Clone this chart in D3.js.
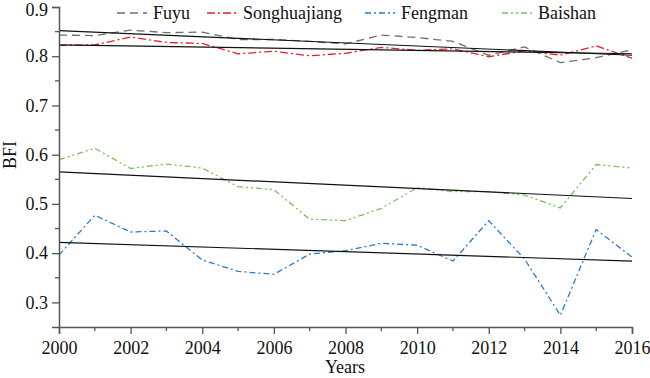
<!DOCTYPE html>
<html><head><meta charset="utf-8">
<script src="https://cdn.jsdelivr.net/npm/d3@7"></script>
<style>body{margin:0;background:#fff}svg{display:block}svg text{font-family:"Liberation Serif","DejaVu Serif",serif !important;fill:#111}</style>
</head><body><svg id="c" width="650" height="378"></svg>
<script>
const years = [2000,2001,2002,2003,2004,2005,2006,2007,2008,2009,2010,2011,2012,2013,2014,2015,2016];
const fuyu = [0.843,0.842,0.853,0.848,0.849,0.834,0.834,0.830,0.825,0.843,0.838,0.830,0.802,0.819,0.787,0.797,0.813];
const songhuajiang = [0.822,0.823,0.839,0.828,0.826,0.805,0.810,0.801,0.806,0.818,0.812,0.815,0.799,0.811,0.802,0.821,0.796];
const fengman = [0.396,0.477,0.443,0.445,0.386,0.363,0.357,0.398,0.405,0.420,0.416,0.384,0.466,0.388,0.274,0.448,0.392];
const baishan = [0.590,0.613,0.572,0.581,0.573,0.535,0.529,0.469,0.466,0.491,0.533,0.525,0.525,0.518,0.492,0.580,0.573];
// trend line start/end values (2000, 2016)
const trendFuyu = [0.852,0.802];
const trendSonghuajiang = [0.823,0.805];
const trendFengman = [0.422,0.384];
const trendBaishan = [0.565,0.511];
const seriesNames = ["Fuyu","Songhuajiang","Fengman","Baishan"];
const xTicks = [2000,2002,2004,2006,2008,2010,2012,2014,2016];
const yTicks = [0.3,0.4,0.5,0.6,0.7,0.8,0.9];

const FONT = '"Liberation Serif","DejaVu Serif",serif';
const svg = d3.select("#c");
const x = d3.scaleLinear().domain([2000,2016]).range([59,632]);
const y = d3.scaleLinear().domain([0.25,0.9]).range([327,7]);

const series = [
  {name:"Fuyu", vals:fuyu, trend:trendFuyu, color:"#6e6e6e", dash:"8,5", w:1.3},
  {name:"Songhuajiang", vals:songhuajiang, trend:trendSonghuajiang, color:"#e4202a", dash:"8,3,2,3", w:1.3},
  {name:"Fengman", vals:fengman, trend:trendFengman, color:"#2a7bd4", dash:"6,3,2,3", w:1.3},
  {name:"Baishan", vals:baishan, trend:trendBaishan, color:"#78c256", dash:"6,3,2,3,2,3", w:1.3}
];

const line = d3.line().x((d,i)=>x(years[i])).y(d=>y(d));
series.forEach(s=>{
  svg.append("path").attr("d",line(s.vals)).attr("fill","none")
    .attr("stroke",s.color).attr("stroke-width",s.w).attr("stroke-dasharray",s.dash);
});
series.forEach(s=>{
  svg.append("line").attr("x1",x(2000)).attr("x2",x(2016))
    .attr("y1",y(s.trend[0])).attr("y2",y(s.trend[1]))
    .attr("stroke","#111").attr("stroke-width",1.2);
});

// axes
const xAxis = d3.axisBottom(x).tickValues(xTicks).tickFormat(d3.format("d")).tickSize(7).tickPadding(7);
const gx = svg.append("g").attr("transform","translate(0,327)").call(xAxis);
const yAxis = d3.axisLeft(y).tickValues(yTicks).tickFormat(d3.format(".1f")).tickSize(7).tickPadding(4);
const gy = svg.append("g").attr("transform","translate(59,0)").call(yAxis);
[gx,gy].forEach(g=>{
  g.attr("font-family",FONT).attr("font-size",18);
  g.select(".domain").attr("stroke","#555").attr("stroke-width",1.5);
  g.selectAll(".tick line").attr("stroke","#555").attr("stroke-width",1.3);
  g.selectAll(".tick text").style("font-family",FONT).style("font-size","18px").attr("fill","#111");
});
gy.selectAll(".tick").filter(d=>d===0.9).select("text").attr("dy","0.45em");
// minor ticks
const xMinor = years.filter(v=>v%2===1);
gx.selectAll(".minor").data(xMinor).enter().append("line")
  .attr("x1",d=>x(d)).attr("x2",d=>x(d)).attr("y1",0).attr("y2",4)
  .attr("stroke","#555").attr("stroke-width",1.3);
const yMinor = [0.35,0.45,0.55,0.65,0.75,0.85];
gy.selectAll(".minor").data(yMinor).enter().append("line")
  .attr("x1",-4).attr("x2",0).attr("y1",d=>y(d)).attr("y2",d=>y(d))
  .attr("stroke","#555").attr("stroke-width",1.3);

svg.append("text").attr("x",345).attr("y",373).attr("text-anchor","middle").style("font-family",FONT).style("font-size","18px").text("Years");
svg.append("text").attr("transform","translate(16,155) rotate(-90)").attr("text-anchor","middle").style("font-family",FONT).style("font-size","18px").text("BFI");

// legend
const legX = [117,207,365,502];
series.forEach((s,i)=>{
  const lx = legX[i];
  svg.append("line").attr("x1",lx).attr("x2",lx+30).attr("y1",13).attr("y2",13)
    .attr("stroke",s.color).attr("stroke-width",1.3).attr("stroke-dasharray",s.dash);
  svg.append("text").attr("x",lx+36).attr("y",19).style("font-family",FONT).style("font-size","18px").text(seriesNames[i]);
});
</script></body></html>
